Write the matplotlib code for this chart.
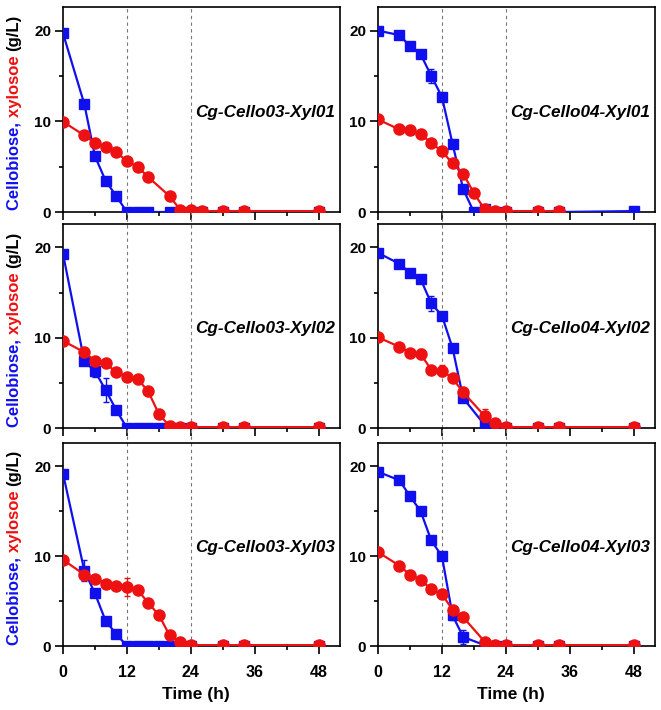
import matplotlib
matplotlib.use("Agg")
import matplotlib.pyplot as plt
from matplotlib.ticker import MultipleLocator

plt.rcParams['font.family'] = ['Liberation Sans', 'DejaVu Sans']
plt.rcParams['font.weight'] = 'bold'

BLUE = '#1010EE'
RED = '#EE1111'

strains = ['Cg-Cello03-Xyl01', 'Cg-Cello04-Xyl01',
           'Cg-Cello03-Xyl02', 'Cg-Cello04-Xyl02',
           'Cg-Cello03-Xyl03', 'Cg-Cello04-Xyl03']

# Cg-Cello03-Xyl01
t_a = [0, 4, 6, 8, 10, 12, 14, 16, 20, 22, 24, 26, 30, 34, 48]
cello_a = [19.7, 11.9, 6.15, 3.45, 1.75, 0, 0, 0, 0, 0, 0, 0, 0, 0, 0]
cello_a_err = [0, 0, 0, 0, 0, 0, 0, 0, 0, 0, 0, 0, 0, 0, 0]
xyl_a = [9.95, 8.45, 7.6, 7.2, 6.6, 5.6, 5.0, 3.85, 1.75, 0.25, 0.2, 0.1, 0.1, 0.1, 0.1]
xyl_a_err = [0, 0, 0, 0, 0, 0, 0, 0, 0, 0, 0, 0, 0, 0, 0]

# Cg-Cello04-Xyl01
t_b = [0, 4, 6, 8, 10, 12, 14, 16, 18, 20, 22, 24, 30, 34, 48]
cello_b = [20.0, 19.5, 18.3, 17.4, 15.0, 12.7, 7.5, 2.5, 0, 0.3, 0, 0, 0, 0, 0.1]
cello_b_err = [0, 0.2, 0.3, 0.4, 0.8, 0.3, 0.3, 0.2, 0, 0, 0, 0, 0, 0, 0]
t_b_xyl = [0, 4, 6, 8, 10, 12, 14, 16, 18, 20, 22, 24, 30, 34]
xyl_b = [10.2, 9.1, 9.0, 8.6, 7.6, 6.7, 5.35, 4.2, 2.1, 0.3, 0.1, 0.1, 0.1, 0.1]
xyl_b_err = [0, 0, 0, 0, 0, 0, 0, 0, 0, 0, 0, 0, 0, 0]

# Cg-Cello03-Xyl02
t_c = [0, 4, 6, 8, 10, 12, 14, 16, 18, 20, 22, 24, 30, 34, 48]
cello_c = [19.3, 7.4, 6.3, 4.2, 2.0, 0, 0, 0, 0, 0, 0, 0, 0, 0, 0]
cello_c_err = [0, 0.3, 0.6, 1.3, 0, 0, 0, 0, 0, 0, 0, 0, 0, 0, 0]
xyl_c = [9.65, 8.4, 7.45, 7.2, 6.15, 5.7, 5.45, 4.05, 1.55, 0.2, 0.1, 0.1, 0.1, 0.1, 0.1]
xyl_c_err = [0, 0, 0, 0, 0, 0, 0, 0, 0, 0, 0, 0, 0, 0, 0]

# Cg-Cello04-Xyl02
t_d = [0, 4, 6, 8, 10, 12, 14, 16, 20, 22, 24, 30, 34, 48]
cello_d = [19.4, 18.2, 17.2, 16.5, 13.8, 12.45, 8.85, 3.3, 0.35, 0, 0, 0, 0, 0]
cello_d_err = [0, 0, 0, 0.4, 0.8, 0.3, 0, 0.3, 0, 0, 0, 0, 0, 0]
xyl_d = [10.05, 9.0, 8.35, 8.2, 6.45, 6.35, 5.5, 3.95, 1.35, 0.5, 0.1, 0.1, 0.1, 0.1]
xyl_d_err = [0, 0, 0, 0.6, 0, 0.6, 0, 0.3, 0.7, 0, 0, 0, 0, 0]

# Cg-Cello03-Xyl03
t_e = [0, 4, 6, 8, 10, 12, 14, 16, 18, 20, 22, 24, 30, 34, 48]
cello_e = [19.2, 8.4, 5.85, 2.8, 1.33, 0, 0, 0, 0, 0, 0, 0, 0, 0, 0]
cello_e_err = [0, 1.2, 0, 0, 0, 0, 0, 0, 0, 0, 0, 0, 0, 0, 0]
xyl_e = [9.6, 7.95, 7.5, 6.95, 6.65, 6.55, 6.25, 4.8, 3.45, 1.2, 0.5, 0.1, 0.1, 0.1, 0.1]
xyl_e_err = [0, 0, 0, 0, 0, 1.0, 0, 0, 0, 0, 0, 0, 0, 0, 0]

# Cg-Cello04-Xyl03
t_f = [0, 4, 6, 8, 10, 12, 14, 16, 20, 22, 24, 30, 34, 48]
cello_f = [19.4, 18.45, 16.7, 15.0, 11.75, 10.0, 3.4, 1.0, 0.1, 0, 0, 0, 0, 0]
cello_f_err = [0, 0, 0, 0, 0.3, 0.3, 0.5, 0.8, 0, 0, 0, 0, 0, 0]
xyl_f = [10.45, 8.95, 7.95, 7.4, 6.3, 5.75, 4.05, 3.2, 0.5, 0.1, 0.1, 0.1, 0.1, 0.1]
xyl_f_err = [0, 0, 0, 0, 0, 0, 0, 0, 0, 0, 0, 0, 0, 0]

panels = [
    (t_a, cello_a, cello_a_err, t_a, xyl_a, xyl_a_err),
    (t_b, cello_b, cello_b_err, t_b_xyl, xyl_b, xyl_b_err),
    (t_c, cello_c, cello_c_err, t_c, xyl_c, xyl_c_err),
    (t_d, cello_d, cello_d_err, t_d, xyl_d, xyl_d_err),
    (t_e, cello_e, cello_e_err, t_e, xyl_e, xyl_e_err),
    (t_f, cello_f, cello_f_err, t_f, xyl_f, xyl_f_err),
]

W, H = 661, 710
fig = plt.figure(figsize=(W / 100, H / 100), dpi=100)

col_left = [63 / W, 378 / W]
col_w = 277 / W
row_top = [7, 224, 443]
row_bot = [212, 428, 646]

axes = []
for i, (tc, c, ce, tx, x, xe) in enumerate(panels):
    r, col = divmod(i, 2)
    ax = fig.add_axes([col_left[col], 1 - row_bot[r] / H, col_w,
                       (row_bot[r] - row_top[r]) / H])
    axes.append(ax)
    ax.errorbar(tc, c, yerr=ce, color=BLUE, marker='s', ms=6.5, lw=1.6,
                capsize=2, elinewidth=1, zorder=3)
    ax.errorbar(tx, x, yerr=xe, color=RED, marker='o', ms=8, lw=1.6,
                capsize=2, elinewidth=1, zorder=4)
    ax.set_xlim(0, 52)
    ax.set_ylim(0, 22.6)
    ax.xaxis.set_major_locator(MultipleLocator(12))
    ax.xaxis.set_minor_locator(MultipleLocator(6))
    ax.yaxis.set_major_locator(MultipleLocator(10))
    ax.yaxis.set_minor_locator(MultipleLocator(5))
    ax.tick_params(which='both', direction='out', width=1.2)
    ax.tick_params(which='major', length=5.5)
    ax.tick_params(which='minor', length=3)
    ax.tick_params(axis='y', labelsize=11, pad=3)
    ax.tick_params(axis='x', labelsize=11.5, pad=8)
    for s in ax.spines.values():
        s.set_linewidth(1.2)
    if r < 2:
        ax.tick_params(axis='x', labelbottom=False)
    else:
        ax.set_xlabel('Time (h)', fontsize=12.5, fontweight='bold')
        ax.xaxis.set_label_coords(0.48, -0.2)
    ax.text(24.8, 11, strains[i], fontsize=12.3, fontweight='bold',
            style='italic', va='center', ha='left')
    # dashed guides at 12 h and 24 h, bridging the gap above each lower row
    ext = 0.0
    if r > 0:
        ext = (row_top[r] - row_bot[r - 1]) / (row_bot[r] - row_top[r])
    for xv in (12, 24):
        ax.axvline(xv, ymin=0, ymax=1 + ext, color='#777777', lw=0.8,
                   dashes=(3, 3), clip_on=False, zorder=1)

# multi-coloured y label for each row of the left column
parts = [('Cellobiose, ', BLUE), ('xylosoe ', RED), ('(g/L)', 'black')]
LABEL_FS = 12
fig.canvas.draw()
renderer = fig.canvas.get_renderer()


def text_width(s):
    t = fig.text(0, 0, s + '|', fontsize=LABEL_FS, fontweight='bold')
    t0 = fig.text(0, 0, '|', fontsize=LABEL_FS, fontweight='bold')
    w = t.get_window_extent(renderer).width - t0.get_window_extent(renderer).width
    t.remove()
    t0.remove()
    return w


full = ''.join(p for p, _ in parts)
total = text_width(full)
for r in range(3):
    yc = H - (row_top[r] + row_bot[r]) / 2 - 3
    start = yc - total / 2
    prefix = ''
    for s, colr in parts:
        off = text_width(prefix) if prefix else 0
        fig.text(14 / W, (start + off) / H, s, rotation=90, fontsize=LABEL_FS,
                 fontweight='bold', color=colr, ha='left', va='center',
                 rotation_mode='anchor')
        prefix += s

fig.savefig('out.png', dpi=100)
